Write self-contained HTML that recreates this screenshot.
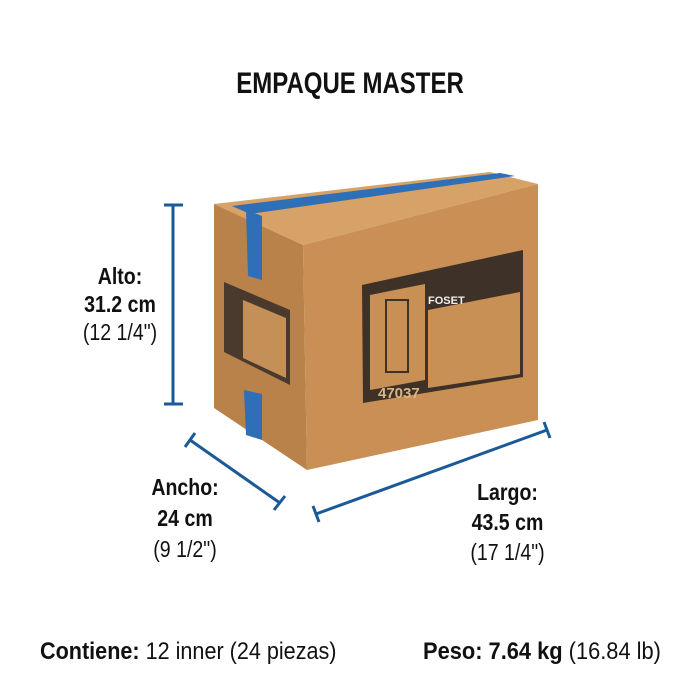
<!DOCTYPE html>
<html><head><style>
body{margin:0;width:700px;height:700px;background:#fff;overflow:hidden;font-family:"Liberation Sans",sans-serif;}
.t{position:absolute;color:#111;font-weight:bold;text-align:center;transform:scaleX(0.85);}
.n{font-weight:normal;}
</style></head><body>
<svg width="700" height="700" style="position:absolute;left:0;top:0">
<polygon points="214,204 490,172 538,184 303,245" fill="#d7a267"/>
<polygon points="214,204 303,245 307,470 214,408" fill="#b9824b"/>
<polygon points="303,245 538,184 538,420 307,470" fill="#c98f55"/>
<polygon points="232,206 500,173 515,176 250,214" fill="#2f6fb5"/>
<polygon points="246,210 262,216 262,280 248,276" fill="#2f6fb5"/>
<polygon points="244,390 262,394 262,440 246,435" fill="#2f6fb5"/>
<polygon points="224,282 290,310 290,385 224,352" fill="#4a3a2e"/>
<polygon points="243,300 286,318 286,378 243,358" fill="#c49058"/>
<polygon points="362,285 523,250 523,377 363,403" fill="#3e3128"/>
<polygon points="370,295 425,284 425,380 370,390" fill="#c99055"/>
<polygon points="428,310 520,292 520,374 428,388" fill="#c99055"/>
<rect x="386" y="300" width="22" height="72" fill="none" stroke="#3e3128" stroke-width="2"/>
<text x="428" y="304" font-size="11" font-weight="bold" fill="#eee" font-family="Liberation Sans">FOSET</text>
<text x="378" y="398" font-size="15" font-weight="bold" fill="#d9b585" font-family="Liberation Sans">47037</text>
<g stroke="#1b5a96" stroke-width="3" fill="none">
<line x1="173" y1="205" x2="173" y2="404"/>
<line x1="164" y1="205" x2="183" y2="205"/>
<line x1="164" y1="404" x2="183" y2="404"/>
<line x1="190" y1="440" x2="280" y2="503"/>
<line x1="185" y1="447" x2="195" y2="433"/>
<line x1="274" y1="510" x2="285" y2="496"/>
<line x1="316" y1="514" x2="547" y2="430"/>
<line x1="313" y1="506" x2="319" y2="522"/>
<line x1="544" y1="422" x2="550" y2="438"/>
</g>
</svg>
<div class="t" style="left:200px;top:67px;width:300px;font-size:30px;transform:scaleX(0.8);">EMPAQUE MASTER</div>
<div class="t" style="left:65px;top:262px;width:110px;font-size:23px;line-height:28px;">Alto:<br>31.2 cm<br><span class="n">(12 1/4")</span></div>
<div class="t" style="left:130px;top:472px;width:110px;font-size:23px;line-height:31px;">Ancho:<br>24 cm<br><span class="n">(9 1/2")</span></div>
<div class="t" style="left:445px;top:477px;width:125px;font-size:23px;line-height:30px;">Largo:<br>43.5 cm<br><span class="n">(17 1/4")</span></div>
<div class="t" style="left:40px;top:638px;width:360px;font-size:24px;text-align:left;transform-origin:left;transform:scaleX(0.9);">Contiene: <span class="n">12 inner (24 piezas)</span></div>
<div class="t" style="left:423px;top:638px;width:280px;font-size:24px;text-align:left;transform-origin:left;transform:scaleX(0.91);">Peso: 7.64 kg <span class="n">(16.84 lb)</span></div>
</body></html>
